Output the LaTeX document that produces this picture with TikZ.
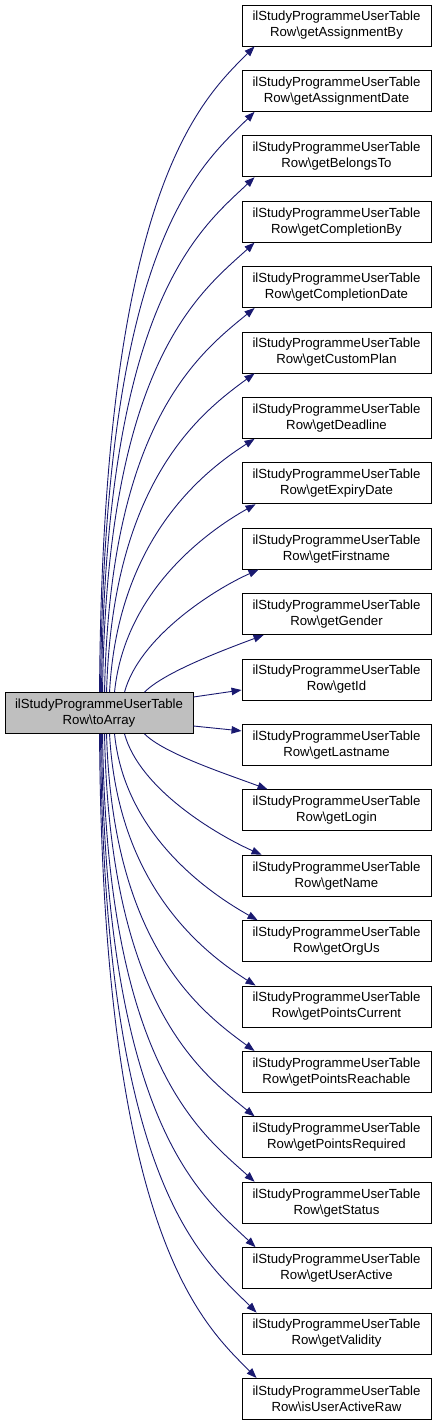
\documentclass[tikz,border=0pt]{standalone}
\usepackage{fontspec}
\setmainfont{Liberation Sans}
\usetikzlibrary{arrows.meta}
\definecolor{edgecol}{HTML}{191970}
\definecolor{srcfill}{HTML}{BFBFBF}
\tikzset{
  fn/.style={draw=black, line width=0.9pt, rectangle, minimum width=189pt, minimum height=41pt,
    inner sep=0pt, align=center, fill=white, font=\fontsize{13.2}{16}\selectfont},
  edge/.style={draw=edgecol, line width=0.9pt, -{Triangle[length=10pt,width=7.5pt]}}
}
\begin{document}
\begin{tikzpicture}[x=1pt,y=1pt]
\useasboundingbox (0,0) rectangle (437,-1424);
\node[fn, fill=srcfill, minimum width=188pt] (src) at (99,-713) {ilStudyProgrammeUserTable\\Row\textbackslash{}toArray};
\foreach \n [count=\i from 0] in {getAssignmentBy,getAssignmentDate,getBelongsTo,getCompletionBy,getCompletionDate,getCustomPlan,getDeadline,getExpiryDate,getFirstname,getGender,getId,getLastname,getLogin,getName,getOrgUs,getPointsCurrent,getPointsReachable,getPointsRequired,getStatus,getUserActive,getValidity,isUserActiveRaw}
  \node[fn] (t\i) at (336.5,{-(25.5+65.4*\i)}) {ilStudyProgrammeUserTable\\Row\textbackslash{}\n};
% upper edges: sx, ex, c1, c2
\foreach \i/\sx/\ex/\ax/\ay/\bx/\by in {0/100/255/3/500/55/55, 1/101/255/3/450/55/55, 2/102/255/3/390/55/52, 3/103/255/4/330/55/50, 4/105/255/5/270/55/45, 5/107/255/6/210/55/40, 6/110/255/8/150/55/35, 7/115/256/10/100/50/28, 8/125/259/15/55/45/20, 9/145/264/20/20/40/15}
  \draw[edge] ([xshift={\sx-5}]src.north west) .. controls +(\ax,\ay) and +(-\bx,-\by) .. ([xshift={\ex-242}]t\i.south west);
% middle edges
\draw[edge] ([yshift=16]src.east) -- ([yshift=-10.5]t10.west);
\draw[edge] ([yshift=-13]src.east) -- ([yshift=14]t11.west);
% lower edges
\foreach \i/\sx/\ex/\ax/\ay/\bx/\by in {12/145/268/20/20/40/15, 13/125/262/15/55/45/20, 14/115/258/10/100/50/28, 15/110/256/8/150/55/35, 16/107/255/6/210/55/40, 17/105/255/5/270/55/45, 18/103/255/4/330/55/50, 19/102/256/3/390/55/52, 20/101/257/3/450/55/55, 21/100/257/3/500/55/55}
  \draw[edge] ([xshift={\sx-5}]src.south west) .. controls +(\ax,-\ay) and +(-\bx,\by) .. ([xshift={\ex-242}]t\i.north west);
\end{tikzpicture}
\end{document}
